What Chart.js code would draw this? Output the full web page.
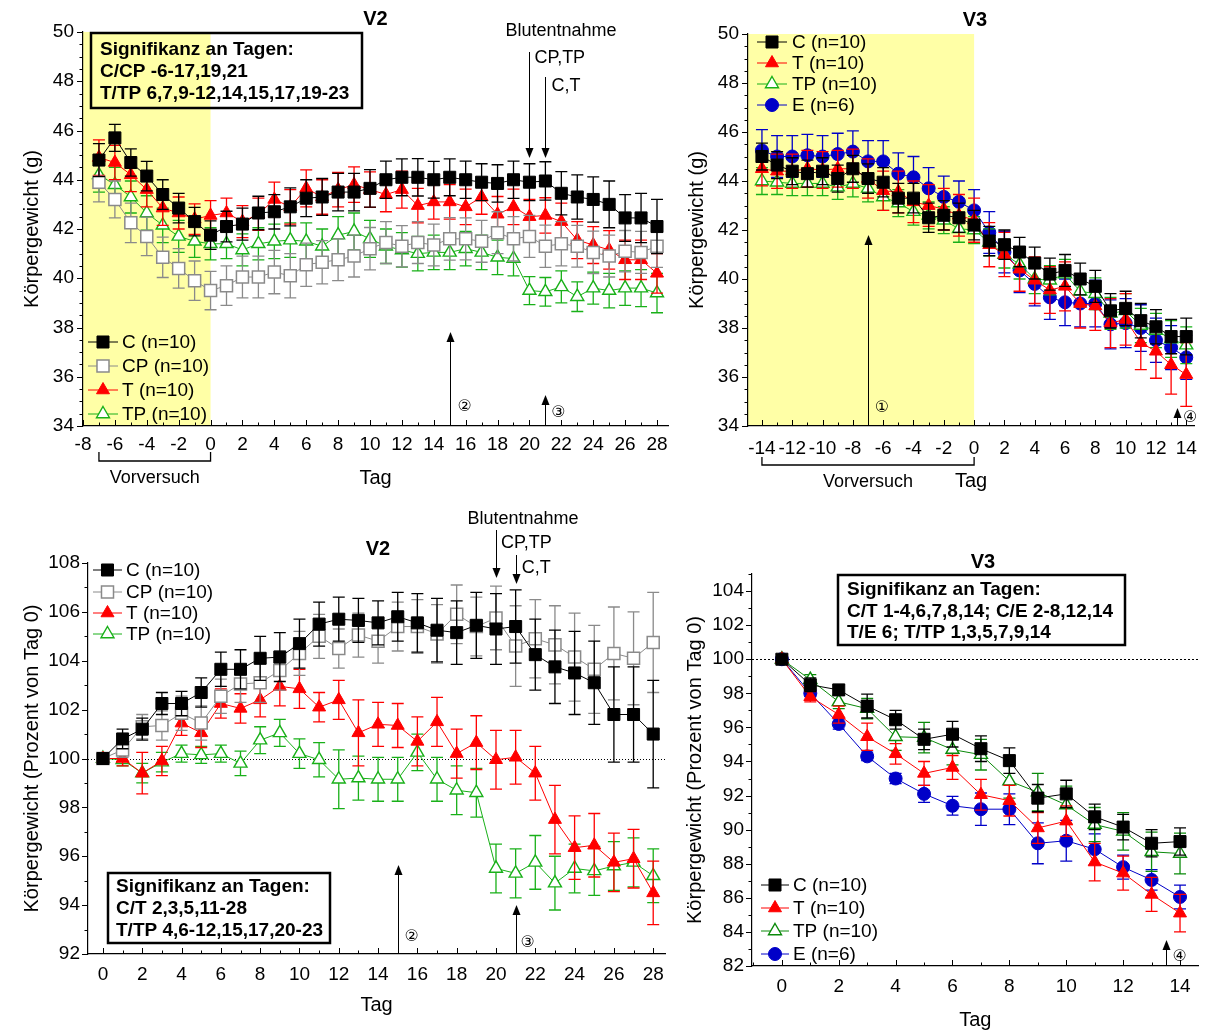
<!DOCTYPE html>
<html>
<head>
<meta charset="utf-8">
<title>Körpergewicht V2 / V3</title>
<script src="https://cdn.jsdelivr.net/npm/chart.js@4.4.1/dist/chart.umd.min.js"></script>
<style>
  body { margin: 0; background: #fff; }
  #wrap { position: relative; width: 1208px; height: 1032px; overflow: hidden; }
  canvas { position: absolute; }
</style>
</head>
<body>
<div id="wrap">
  <canvas id="v2g" width="680" height="500" style="left:0;top:0"></canvas>
  <canvas id="v3g" width="528" height="500" style="left:680px;top:0"></canvas>
  <canvas id="v2p" width="680" height="532" style="left:0;top:500px"></canvas>
  <canvas id="v3p" width="528" height="532" style="left:680px;top:500px"></canvas>
</div>
<script>
const FONT = '"Liberation Sans", Arial, Helvetica, sans-serif';
Chart.defaults.font.family = FONT;
Chart.defaults.color = '#000';

// ---- V2, Körpergewicht (g), Tag -7 ... 28
const v2gDays = [-7, -6, -5, -4, -3, -2, -1, 0, 1, 2, 3, 4, 5, 6, 7, 8, 9, 10, 11, 12, 13, 14, 15, 16, 17, 18, 19, 20, 21, 22, 23, 24, 25, 26, 27, 28];
const v2gC   = [44.8, 45.7, 44.7, 44.15, 43.4, 42.85, 42.3, 41.75, 42.1, 42.2, 42.65, 42.7, 42.9, 43.25, 43.3, 43.5, 43.5, 43.65, 44.0, 44.1, 44.1, 44.0, 44.1, 44.0, 43.9, 43.85, 44.0, 43.9, 43.95, 43.45, 43.3, 43.2, 43.0, 42.45, 42.45, 42.1];
const v2gCP  = [43.9, 43.2, 42.25, 41.7, 40.85, 40.4, 39.9, 39.5, 39.7, 40.05, 40.05, 40.25, 40.1, 40.55, 40.65, 40.75, 40.9, 41.2, 41.45, 41.3, 41.45, 41.35, 41.6, 41.6, 41.5, 41.85, 41.6, 41.7, 41.3, 41.4, 41.3, 41.05, 40.9, 41.1, 41.05, 41.3];
const v2gT   = [44.9, 44.7, 44.2, 43.6, 42.85, 42.65, 42.4, 42.55, 42.65, 42.3, 42.6, 43.2, 42.9, 43.65, 43.3, 43.6, 43.8, 43.6, 43.4, 43.6, 42.95, 43.1, 43.1, 42.9, 43.3, 42.6, 42.9, 42.5, 42.55, 42.3, 41.55, 41.35, 41.15, 40.75, 40.75, 40.2];
const v2gTP  = [44.2, 43.8, 43.3, 42.65, 42.15, 41.7, 41.5, 41.4, 41.4, 41.15, 41.4, 41.5, 41.55, 41.5, 41.3, 41.75, 41.9, 41.6, 41.3, 41.15, 41.0, 41.05, 41.05, 41.2, 41.05, 40.85, 40.8, 39.5, 39.45, 39.65, 39.25, 39.6, 39.5, 39.6, 39.6, 39.4];
const v2gCErr  = [0.67, 0.55, 0.55, 0.6, 0.6, 0.6, 0.58, 0.58, 0.62, 0.65, 0.68, 0.7, 0.77, 0.75, 0.75, 0.76, 0.76, 0.76, 0.76, 0.75, 0.76, 0.75, 0.75, 0.76, 0.75, 0.76, 0.76, 0.75, 0.78, 0.88, 0.9, 0.92, 0.95, 0.95, 1.0, 1.1];
const v2gCPErr = [0.8, 0.75, 0.8, 0.78, 0.82, 0.8, 0.8, 0.78, 0.8, 0.85, 0.85, 0.88, 0.9, 0.88, 0.88, 0.85, 0.85, 0.86, 0.85, 0.84, 0.85, 0.85, 0.86, 0.85, 0.85, 0.85, 0.9, 0.85, 0.86, 0.9, 0.85, 0.86, 0.85, 0.84, 0.85, 0.86];
const v2gTErr  = [0.72, 0.7, 0.68, 0.7, 0.7, 0.65, 0.62, 0.6, 0.6, 0.65, 0.65, 0.7, 0.7, 0.75, 0.7, 0.7, 0.72, 0.72, 0.7, 0.75, 0.7, 0.7, 0.7, 0.72, 0.7, 0.72, 0.72, 0.7, 0.72, 0.75, 0.75, 0.75, 0.78, 0.8, 0.8, 0.8];
const v2gTPErr = [0.7, 0.7, 0.65, 0.7, 0.7, 0.65, 0.65, 0.65, 0.6, 0.65, 0.65, 0.7, 0.7, 0.75, 0.7, 0.75, 0.75, 0.75, 0.7, 0.7, 0.7, 0.7, 0.7, 0.7, 0.7, 0.7, 0.7, 0.57, 0.58, 0.65, 0.6, 0.65, 0.7, 0.7, 0.75, 0.8];

// ---- V3, Körpergewicht (g), Tag -14 ... 14
const v3gDays = [-14, -13, -12, -11, -10, -9, -8, -7, -6, -5, -4, -3, -2, -1, 0, 1, 2, 3, 4, 5, 6, 7, 8, 9, 10, 11, 12, 13, 14];
const v3gC   = [45.0, 44.65, 44.4, 44.3, 44.4, 44.1, 44.5, 44.1, 43.95, 43.3, 43.3, 42.5, 42.6, 42.5, 42.2, 41.55, 41.4, 41.1, 40.65, 40.2, 40.35, 40.0, 39.7, 38.7, 38.8, 38.3, 38.05, 37.65, 37.65];
const v3gT   = [44.5, 44.4, 44.4, 44.5, 44.45, 44.5, 44.5, 44.1, 43.6, 43.55, 43.15, 43.0, 42.85, 42.6, 42.4, 41.4, 41.0, 40.4, 39.95, 39.55, 39.7, 39.0, 38.9, 38.2, 38.35, 37.4, 37.05, 36.5, 36.1];
const v3gTP  = [44.0, 43.95, 43.9, 43.9, 43.9, 43.75, 43.9, 43.7, 43.35, 43.1, 42.75, 42.6, 42.4, 42.05, 42.0, 41.5, 41.0, 40.6, 40.0, 39.95, 40.2, 39.5, 39.4, 38.6, 38.7, 38.1, 37.9, 37.55, 37.3];
const v3gE   = [45.25, 45.0, 45.0, 45.05, 45.0, 45.1, 45.2, 44.8, 44.8, 44.3, 44.15, 43.7, 43.35, 43.15, 42.8, 41.9, 41.1, 40.35, 39.8, 39.25, 39.05, 39.0, 39.0, 38.15, 38.2, 38.0, 37.5, 37.2, 36.8];
const v3gCErr  = [0.55, 0.55, 0.55, 0.55, 0.55, 0.55, 0.55, 0.6, 0.6, 0.6, 0.6, 0.6, 0.6, 0.6, 0.6, 0.6, 0.6, 0.6, 0.65, 0.65, 0.65, 0.65, 0.65, 0.7, 0.7, 0.7, 0.7, 0.7, 0.75];
const v3gTErr  = [0.7, 0.7, 0.7, 0.75, 0.75, 0.75, 0.8, 0.8, 0.8, 0.85, 0.85, 0.85, 0.85, 0.85, 0.9, 0.9, 0.9, 0.9, 0.95, 0.95, 1.0, 1.0, 1.0, 1.0, 1.05, 1.1, 1.1, 1.2, 1.3];
const v3gTPErr = [0.55, 0.5, 0.5, 0.5, 0.5, 0.5, 0.55, 0.55, 0.55, 0.55, 0.55, 0.55, 0.55, 0.55, 0.55, 0.55, 0.55, 0.6, 0.6, 0.6, 0.6, 0.65, 0.65, 0.65, 0.7, 0.7, 0.7, 0.75, 0.75];
const v3gEErr  = [0.85, 0.85, 0.85, 0.85, 0.85, 0.85, 0.85, 0.85, 0.85, 0.85, 0.85, 0.85, 0.85, 0.85, 0.85, 0.85, 0.85, 0.9, 0.9, 0.9, 0.95, 0.95, 0.95, 1.0, 1.0, 0.95, 0.9, 0.9, 0.9];

// ---- V2, Prozent von Tag 0, Tag 0 ... 28
const v2pDays = [0, 1, 2, 3, 4, 5, 6, 7, 8, 9, 10, 11, 12, 13, 14, 15, 16, 17, 18, 19, 20, 21, 22, 23, 24, 25, 26, 27, 28];
const v2pC   = [100.0, 100.8, 101.2, 102.25, 102.25, 102.7, 103.65, 103.65, 104.1, 104.15, 104.7, 105.5, 105.7, 105.65, 105.55, 105.8, 105.55, 105.25, 105.15, 105.45, 105.3, 105.4, 104.25, 103.75, 103.5, 103.1, 101.8, 101.8, 101.0];
const v2pCP  = [100.0, 100.35, 101.3, 101.35, 101.85, 101.45, 102.55, 103.05, 103.1, 103.6, 104.3, 105.0, 104.5, 105.05, 104.8, 105.4, 105.4, 105.1, 105.9, 105.4, 105.75, 104.6, 104.9, 104.65, 104.15, 103.65, 104.3, 104.1, 104.75];
const v2pT   = [100.0, 100.0, 99.4, 99.9, 101.45, 101.05, 102.25, 102.05, 102.4, 102.95, 102.85, 102.1, 102.4, 101.05, 101.4, 101.35, 100.7, 101.5, 100.2, 100.65, 99.95, 100.05, 99.4, 97.5, 96.35, 96.45, 95.75, 95.9, 94.5];
const v2pTP  = [100.0, 99.95, 99.4, 99.85, 100.2, 100.15, 100.2, 99.8, 100.75, 101.05, 100.2, 99.95, 99.15, 99.2, 99.15, 99.15, 100.25, 99.15, 98.7, 98.6, 95.5, 95.3, 95.75, 94.9, 95.5, 95.4, 95.6, 95.75, 95.2];
const v2pCErr  = [0, 0.4, 0.45, 0.45, 0.5, 0.6, 0.7, 0.8, 0.9, 1.0, 1.0, 0.9, 0.9, 0.9, 0.9, 1.0, 1.2, 1.3, 1.3, 1.35, 1.45, 1.5, 1.45, 1.5, 1.7, 1.7, 1.95, 1.95, 2.2];
const v2pCPErr = [0, 0.3, 0.5, 0.6, 0.7, 0.7, 0.7, 0.75, 0.8, 0.8, 0.9, 0.9, 0.8, 0.9, 0.9, 1.0, 1.1, 1.2, 1.2, 1.2, 1.3, 1.65, 1.6, 1.6, 1.8, 1.8, 1.9, 1.9, 2.05];
const v2pTErr  = [0, 0.3, 0.85, 0.6, 0.5, 0.6, 0.6, 0.6, 0.7, 0.8, 0.8, 0.6, 0.8, 1.35, 0.9, 0.9, 1.0, 1.0, 1.0, 1.1, 1.2, 1.1, 1.1, 1.4, 1.3, 1.3, 1.2, 1.2, 1.3];
const v2pTPErr = [0, 0.25, 0.4, 0.4, 0.35, 0.35, 0.35, 0.5, 0.55, 0.55, 0.6, 0.7, 1.2, 0.9, 0.9, 0.9, 0.75, 0.9, 1.0, 1.0, 1.0, 1.0, 1.1, 1.1, 1.0, 1.0, 1.0, 1.0, 1.1];

// ---- V3, Prozent von Tag 0, Tag 0 ... 14
const v3pDays = [0, 1, 2, 3, 4, 5, 6, 7, 8, 9, 10, 11, 12, 13, 14];
const v3pC   = [100, 98.5, 98.2, 97.25, 96.45, 95.3, 95.6, 94.75, 94.05, 91.85, 92.1, 90.75, 90.15, 89.2, 89.3];
const v3pT   = [100, 97.8, 96.75, 95.45, 94.45, 93.3, 93.65, 92.05, 91.7, 90.1, 90.5, 88.1, 87.45, 86.2, 85.1];
const v3pTP  = [100, 98.8, 97.5, 97.1, 95.45, 95.4, 94.7, 94.4, 92.85, 92.2, 91.45, 90.3, 89.9, 88.7, 88.6];
const v3pE   = [100, 98.0, 96.2, 94.3, 93.0, 92.1, 91.4, 91.2, 91.2, 89.2, 89.35, 88.85, 87.8, 87.05, 86.05];
const v3pCErr  = [0, 0.4, 0.3, 0.7, 0.55, 0.6, 0.75, 0.75, 0.75, 0.8, 0.8, 0.75, 0.75, 0.8, 0.8];
const v3pTErr  = [0, 0.3, 0.5, 0.8, 0.6, 0.7, 0.7, 0.9, 0.9, 0.9, 0.9, 1.1, 1.0, 1.0, 1.1];
const v3pTPErr = [0, 0.3, 0.4, 0.6, 0.8, 0.9, 0.9, 0.9, 1.0, 1.1, 1.1, 1.0, 1.1, 1.15, 1.2];
const v3pEErr  = [0, 0.2, 0.3, 0.25, 0.3, 0.5, 0.55, 0.95, 0.9, 1.2, 1.2, 0.9, 0.7, 0.6, 0.7];

// tick labels
const v2gXTicks = [-8, -6, -4, -2, 0, 2, 4, 6, 8, 10, 12, 14, 16, 18, 20, 22, 24, 26, 28];
const v3gXTicks = [-14, -12, -10, -8, -6, -4, -2, 0, 2, 4, 6, 8, 10, 12, 14];
const v2pXTicks = [0, 2, 4, 6, 8, 10, 12, 14, 16, 18, 20, 22, 24, 26, 28];
const v3pXTicks = [0, 2, 4, 6, 8, 10, 12, 14];
const gYTicks   = [34, 36, 38, 40, 42, 44, 46, 48, 50];
const v2pYTicks = [92, 94, 96, 98, 100, 102, 104, 106, 108];
const v3pYTicks = [82, 84, 86, 88, 90, 92, 94, 96, 98, 100, 102, 104];

const sty = {
  C:  { color: '#000000', fill: '#000000', shape: 'rect', r: 8.5, bw: 1 },
  CP: { color: '#8a8a8a', fill: '#ffffff', shape: 'rect', r: 8.5, bw: 1.5 },
  T:  { color: '#ff0000', fill: '#ff0000', shape: 'triangle', r: 7.5, bw: 1 },
  TP: { color: '#19b019', fill: '#ffffff', shape: 'triangle', r: 7.5, bw: 1.4 },
  TP2:{ color: '#0a8a0a', fill: '#ffffff', shape: 'triangle', r: 7.5, bw: 1.4 },
  E:  { color: '#0000c8', fill: '#0000c8', shape: 'circle', r: 6.5, bw: 1 }
};

const F18 = '18px ' + FONT;
const F19 = '19px ' + FONT;
const B19 = 'bold 19px ' + FONT;
const B20 = 'bold 20px ' + FONT;
const CIRC = '16px "DejaVu Sans", sans-serif';
const YELLOW = '#ffffa6';

function series(label, days, vals, err, s) {
  return {
    label, err,
    data: days.map((d, i) => ({ x: d, y: vals[i] })),
    borderColor: s.color, borderWidth: 1, backgroundColor: s.fill,
    pointStyle: s.shape, pointRadius: s.r, pointHoverRadius: s.r,
    pointBackgroundColor: s.fill, pointBorderColor: s.color, pointBorderWidth: s.bw,
    tension: 0, fill: false
  };
}

// drawing helpers
function txt(ctx, s, x, y, font, align) {
  ctx.font = font; ctx.textAlign = align || 'center'; ctx.textBaseline = 'middle';
  ctx.fillStyle = '#000'; ctx.fillText(s, x, y);
}
function arrow(ctx, x, y0, y1) {
  const d = y1 > y0 ? 1 : -1;
  x = Math.round(x) + 0.5;
  ctx.strokeStyle = '#000'; ctx.fillStyle = '#000'; ctx.lineWidth = 1;
  ctx.beginPath(); ctx.moveTo(x, y0); ctx.lineTo(x, y1 - d * 8); ctx.stroke();
  ctx.beginPath(); ctx.moveTo(x, y1); ctx.lineTo(x - 4, y1 - d * 10); ctx.lineTo(x + 4, y1 - d * 10); ctx.closePath(); ctx.fill();
}
function bracket(ctx, x0, x1, y, h) {
  ctx.strokeStyle = '#000'; ctx.lineWidth = 1.3;
  ctx.beginPath(); ctx.moveTo(x0, y - h); ctx.lineTo(x0, y); ctx.lineTo(x1, y); ctx.lineTo(x1, y - h); ctx.stroke();
}
function textBox(ctx, x, y, w, h, lines, tx, ys, fill) {
  if (fill) { ctx.fillStyle = fill; ctx.fillRect(x, y, w, h); }
  ctx.strokeStyle = '#000'; ctx.lineWidth = 2.5; ctx.strokeRect(x, y, w, h);
  lines.forEach((l, i) => txt(ctx, l, tx, ys[i], B19, 'left'));
}

const deco = {
  id: 'deco',
  beforeDraw(chart, args, o) {
    const { ctx, chartArea: a, scales: { x } } = chart;
    if (o.shade) {
      const x0 = x.getPixelForValue(o.shade[0]), x1 = x.getPixelForValue(o.shade[1]);
      ctx.save(); ctx.fillStyle = YELLOW; ctx.fillRect(x0, a.top, x1 - x0, a.bottom - a.top); ctx.restore();
    }
  },
  beforeDatasetsDraw(chart, args, o) {
    const { ctx, chartArea: a, scales: { y } } = chart;
    if (o.refLine != null) {
      const p = Math.round(y.getPixelForValue(o.refLine)) + 0.5;
      ctx.save(); ctx.strokeStyle = '#000'; ctx.lineWidth = 1; ctx.setLineDash(o.dash || [1, 2]);
      ctx.beginPath(); ctx.moveTo(a.left, p); ctx.lineTo(a.right, p); ctx.stroke(); ctx.restore();
    }
  },
  beforeDatasetDraw(chart, args) {
    const ds = chart.data.datasets[args.index];
    if (!ds.err) return;
    const y = chart.scales.y, ctx = chart.ctx;
    ctx.save(); ctx.strokeStyle = ds.borderColor; ctx.lineWidth = 1.3;
    args.meta.data.forEach((pt, i) => {
      const e = ds.err[i];
      if (!e) return;
      const v = ds.data[i].y;
      const t = y.getPixelForValue(v + e), b = y.getPixelForValue(v - e);
      ctx.beginPath();
      ctx.moveTo(pt.x, t); ctx.lineTo(pt.x, b);
      ctx.moveTo(pt.x - 6, t); ctx.lineTo(pt.x + 6, t);
      ctx.moveTo(pt.x - 6, b); ctx.lineTo(pt.x + 6, b);
      ctx.stroke();
    });
    ctx.restore();
  },
  afterDraw(chart, args, o) {
    const { ctx, chartArea: a, scales: { x, y } } = chart;
    ctx.save();
    // major + minor ticks (y outward, x inward)
    const major = (sc, v) => sc.ticks.some(t => Math.abs(t.value - v) < 1e-6);
    ctx.strokeStyle = '#000'; ctx.lineWidth = 1;
    ctx.beginPath();
    for (let v = Math.ceil(y.min / o.yMinor - 1e-9) * o.yMinor; v <= y.max + 1e-6; v += o.yMinor) {
      const p = Math.round(y.getPixelForValue(v)) + 0.5;
      const len = major(y, v) ? 6 : 3.5;
      ctx.moveTo(a.left - len, p); ctx.lineTo(a.left, p);
    }
    for (let v = Math.ceil(x.min / o.xMinor - 1e-9) * o.xMinor; v <= x.max + 1e-6; v += o.xMinor) {
      const p = Math.round(x.getPixelForValue(v)) + 0.5;
      const len = major(x, v) ? 6 : 3.5;
      ctx.moveTo(p, a.bottom); ctx.lineTo(p, a.bottom - len);
    }
    ctx.stroke();

    // legend
    const L = o.legend;
    chart.data.datasets.forEach((ds, i) => {
      const yy = L.ys[i];
      ctx.strokeStyle = ds.borderColor; ctx.lineWidth = 1;
      ctx.beginPath(); ctx.moveTo(L.x0, yy); ctx.lineTo(L.x1, yy); ctx.stroke();
      ctx.fillStyle = ds.pointBackgroundColor; ctx.lineWidth = ds.pointBorderWidth;
      Chart.helpers.drawPoint(ctx, { pointStyle: ds.pointStyle, radius: ds.pointRadius, rotation: 0, borderWidth: ds.pointBorderWidth }, (L.x0 + L.x1) / 2, yy);
      txt(ctx, ds.label, L.tx, yy + 1, F19, 'left');
    });

    if (o.notes) o.notes(ctx, v => x.getPixelForValue(v), v => y.getPixelForValue(v), a);
    ctx.restore();
  }
};

function buildChart(id, c) {
  return new Chart(document.getElementById(id), {
    type: 'line',
    data: { datasets: c.datasets },
    options: {
      responsive: false,
      animation: false,
      events: [],
      layout: { padding: c.pad },
      plugins: { legend: { display: false }, tooltip: { enabled: false }, deco: c.deco },
      scales: {
        x: {
          type: 'linear', min: c.x.min, max: c.x.max,
          afterBuildTicks: s => { s.ticks = c.x.ticks.map(v => ({ value: v })); },
          afterFit: s => { s.height = c.x.h; },
          grid: { display: false, drawTicks: false },
          border: { color: '#000', width: 1.2 },
          ticks: { padding: c.x.lp, font: { size: 19 }, color: '#000', maxRotation: 0, autoSkip: false, callback: v => String(v) },
          title: { display: true, text: 'Tag', font: { size: 20 }, padding: { top: 0, bottom: c.x.tp } }
        },
        y: {
          type: 'linear', min: c.y.min, max: c.y.max,
          afterBuildTicks: s => { s.ticks = c.y.ticks.map(v => ({ value: v })); },
          afterFit: s => { s.width = c.y.w; },
          grid: { display: false, drawTicks: false },
          border: { color: '#000', width: 1.2 },
          ticks: { padding: c.y.lp, font: { size: 19 }, color: '#000', autoSkip: false, callback: v => String(v) },
          title: { display: true, text: c.y.title, font: { size: 20 }, padding: { top: c.y.tp, bottom: 0 } }
        }
      }
    },
    plugins: [deco]
  });
}

// ---- top left: V2 in g
buildChart('v2g', {
  datasets: [
    series('C (n=10)', v2gDays, v2gC, v2gCErr, sty.C),
    series('CP (n=10)', v2gDays, v2gCP, v2gCPErr, sty.CP),
    series('T (n=10)', v2gDays, v2gT, v2gTErr, sty.T),
    series('TP (n=10)', v2gDays, v2gTP, v2gTPErr, sty.TP)
  ],
  pad: { left: 0, top: 32, right: 12, bottom: 0 },
  x: { min: -8, max: 28.69, ticks: v2gXTicks, h: 74, lp: 7, tp: 10 },
  y: { min: 34, max: 50, ticks: gYTicks, w: 83, lp: 9, tp: 20, title: 'Körpergewicht (g)' },
  deco: {
    shade: [-8, 0], xMinor: 1, yMinor: 0.5,
    legend: { x0: 88, x1: 118, tx: 122, ys: [342, 366, 390, 414] },
    notes(ctx, X, Y, a) {
      txt(ctx, 'V2', (a.left + a.right) / 2, 19, B20);
      txt(ctx, 'Blutentnahme', 561, 31, F18);
      arrow(ctx, X(20), 52, 158); txt(ctx, 'CP,TP', X(20) + 5, 58, F18, 'left');
      arrow(ctx, X(21), 77, 158); txt(ctx, 'C,T', X(21) + 6, 86, F18, 'left');
      arrow(ctx, X(15), a.bottom, 332); txt(ctx, '②', X(15) + 15, 407, CIRC);
      arrow(ctx, X(21), a.bottom, 395); txt(ctx, '③', X(21) + 13, 413, CIRC);
      bracket(ctx, X(-7), X(0), 461, 9);
      txt(ctx, 'Vorversuch', (X(-7) + X(0)) / 2, 478, F18);
      textBox(ctx, 91, 33, 271, 75, ['Signifikanz an Tagen:', 'C/CP -6-17,19,21', 'T/TP 6,7,9-12,14,15,17,19-23'], 100, [50, 72, 94]);
    }
  }
});

// ---- top right: V3 in g
buildChart('v3g', {
  datasets: [
    series('C (n=10)', v3gDays, v3gC, v3gCErr, sty.C),
    series('T (n=10)', v3gDays, v3gT, v3gTErr, sty.T),
    series('TP (n=10)', v3gDays, v3gTP, v3gTPErr, sty.TP),
    series('E (n=6)', v3gDays, v3gE, v3gEErr, sty.E)
  ],
  pad: { left: 0, top: 34, right: 8, bottom: 0 },
  x: { min: -14.92, max: 14.52, ticks: v3gXTicks, h: 74, lp: 11, tp: 7 },
  y: { min: 34, max: 50, ticks: gYTicks, w: 68, lp: 9, tp: 5, title: 'Körpergewicht (g)' },
  deco: {
    shade: [-14.92, 0], xMinor: 1, yMinor: 0.5,
    legend: { x0: 77, x1: 107, tx: 112, ys: [42, 63, 84, 105] },
    notes(ctx, X, Y, a) {
      txt(ctx, 'V3', 295, 20, B20);
      arrow(ctx, X(-7), a.bottom, 235); txt(ctx, '①', X(-7) + 14, 408, CIRC);
      arrow(ctx, X(13.4), a.bottom, 408); txt(ctx, '④', X(13.4) + 13, 418, CIRC);
      bracket(ctx, X(-14), X(0), 465, 8);
      txt(ctx, 'Vorversuch', (X(-14) + X(0)) / 2, 482, F18);
    }
  }
});

// ---- bottom left: V2 in % of day 0
buildChart('v2p', {
  datasets: [
    series('C (n=10)', v2pDays, v2pC, v2pCErr, sty.C),
    series('CP (n=10)', v2pDays, v2pCP, v2pCPErr, sty.CP),
    series('T (n=10)', v2pDays, v2pT, v2pTErr, sty.T),
    series('TP (n=10)', v2pDays, v2pTP, v2pTPErr, sty.TP)
  ],
  pad: { left: 0, top: 63, right: 15, bottom: 0 },
  x: { min: -0.76, max: 28.6, ticks: v2pXTicks, h: 78, lp: 9, tp: 15 },
  y: { min: 92, max: 108, ticks: v2pYTicks, w: 88, lp: 8, tp: 20, title: 'Körpergewicht (Prozent von Tag 0)' },
  deco: {
    refLine: 100, xMinor: 1, yMinor: 1,
    legend: { x0: 93, x1: 122, tx: 126, ys: [70, 92, 113, 134] },
    notes(ctx, X, Y, a) {
      txt(ctx, 'V2', 378, 49, B20);
      txt(ctx, 'Blutentnahme', 523, 19, F18);
      arrow(ctx, X(20), 30, 78); txt(ctx, 'CP,TP', X(20) + 5, 43, F18, 'left');
      arrow(ctx, X(21), 55, 84); txt(ctx, 'C,T', X(21) + 6, 68, F18, 'left');
      arrow(ctx, X(15), a.bottom, 365); txt(ctx, '②', X(15) + 14, 437, CIRC);
      arrow(ctx, X(21), a.bottom, 405); txt(ctx, '③', X(21) + 12, 443, CIRC);
      textBox(ctx, 108, 373, 222, 70, ['Signifikanz an Tagen:', 'C/T 2,3,5,11-28', 'T/TP 4,6-12,15,17,20-23'], 116, [387, 409, 431], '#fff');
    }
  }
});

// ---- bottom right: V3 in % of day 0
buildChart('v3p', {
  datasets: [
    series('C (n=10)', v3pDays, v3pC, v3pCErr, sty.C),
    series('T (n=10)', v3pDays, v3pT, v3pTErr, sty.T),
    series('TP (n=10)', v3pDays, v3pTP, v3pTPErr, sty.TP2),
    series('E (n=6)', v3pDays, v3pE, v3pEErr, sty.E)
  ],
  pad: { left: 0, top: 74, right: 3, bottom: 0 },
  x: { min: -1.05, max: 14.65, ticks: v3pXTicks, h: 66, lp: 9, tp: 0 },
  y: { min: 82, max: 105, ticks: v3pYTicks, w: 72, lp: 8, tp: 3, title: 'Körpergewicht (Prozent von Tag 0)' },
  deco: {
    refLine: 100, dash: [2, 2], xMinor: 1, yMinor: 1,
    legend: { x0: 81, x1: 109, tx: 113, ys: [385, 408, 431, 454] },
    notes(ctx, X, Y, a) {
      txt(ctx, 'V3', 303, 62, B20);
      arrow(ctx, X(13.5), a.bottom, 440); txt(ctx, '④', X(13.5) + 14, 457, CIRC);
      textBox(ctx, 158, 75, 287, 70, ['Signifikanz an Tagen:', 'C/T 1-4,6,7,8,14; C/E 2-8,12,14', 'T/E 6; T/TP 1,3,5,7,9,14'], 167, [90, 112, 133], '#fff');
    }
  }
});
</script>
</body>
</html>
